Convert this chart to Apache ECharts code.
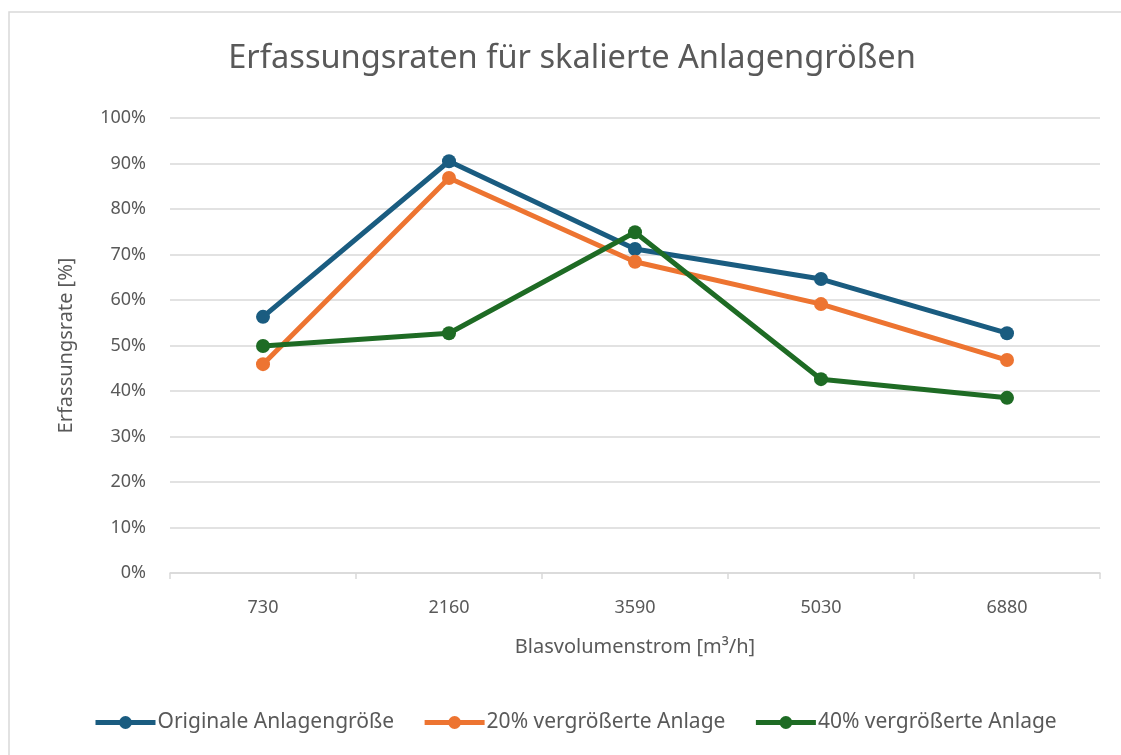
<!DOCTYPE html>
<html>
<head>
<meta charset="utf-8">
<script src="https://cdn.jsdelivr.net/npm/echarts@6/dist/echarts.min.js"></script>
<style>
html,body{margin:0;padding:0;background:#fff;overflow:hidden;}
#chart{width:1121px;height:755px;}
</style>
</head>
<body>
<div id="chart"></div>
<script>
var categories = ['730', '2160', '3590', '5030', '6880'];
var seriesNames = ['Originale Anlagengröße', '20% vergrößerte Anlage', '40% vergrößerte Anlage'];
var original = [56.3, 90.5, 71.2, 64.6, 52.7];
var plus20 = [45.9, 86.8, 68.4, 59.1, 46.8];
var plus40 = [49.9, 52.7, 74.9, 42.6, 38.5];
var colors = ['#1a5c80', '#ed7431', '#1e6b24'];

var chart = echarts.init(document.getElementById('chart'));
var font = '"Noto Sans", "Open Sans", sans-serif';

function line(name, data, color) {
  return {
    name: name,
    type: 'line',
    data: data,
    symbol: 'circle',
    symbolSize: 14,
    lineStyle: {width: 5, color: color},
    itemStyle: {color: color},
    z: 3
  };
}

var option = {
  animation: false,
  backgroundColor: '#fff',
  color: colors,
  // only the top and left edges of the chart frame are visible
  graphic: [{
    type: 'polyline',
    shape: {points: [[9, 760], [9, 12], [1130, 12]]},
    style: {fill: null, stroke: '#d9d9d9', lineWidth: 1.5},
    silent: true
  }],
  title: {
    text: 'Erfassungsraten für skalierte Anlagengrößen',
    left: 567,
    textAlign: 'center',
    top: 37,
    textStyle: {fontFamily: font, fontSize: 32.6, fontWeight: 'normal', color: '#595959'}
  },
  legend: {
    bottom: 17,
    left: 88,
    itemWidth: 60,
    itemHeight: 16,
    itemGap: 28,
    lineStyle: {width: 5},
    textStyle: {fontFamily: font, fontSize: 21, color: '#595959', padding: [0, 0, 0, -3]},
    data: seriesNames
  },
  grid: {left: 170, right: 21, top: 118, bottom: 182},
  xAxis: {
    type: 'category',
    data: categories,
    boundaryGap: true,
    name: 'Blasvolumenstrom [m³/h]',
    nameLocation: 'middle',
    nameGap: 64,
    nameTextStyle: {fontFamily: font, fontSize: 20, color: '#595959'},
    axisLine: {lineStyle: {color: '#d9d9d9', width: 1.5}},
    axisTick: {show: true, length: 6, lineStyle: {color: '#d9d9d9', width: 1.5}},
    axisLabel: {fontFamily: font, fontSize: 18, color: '#595959', margin: 26}
  },
  yAxis: {
    type: 'value',
    min: 0,
    max: 100,
    interval: 10,
    name: 'Erfassungsrate [%]',
    nameLocation: 'middle',
    nameGap: 94,
    nameTextStyle: {fontFamily: font, fontSize: 20, color: '#595959'},
    axisLine: {show: false},
    axisTick: {show: false},
    axisLabel: {formatter: '{value}%', fontFamily: font, fontSize: 18, color: '#595959', margin: 24},
    splitLine: {lineStyle: {color: '#d9d9d9', width: 1.5}}
  },
  series: [
    line(seriesNames[0], original, colors[0]),
    line(seriesNames[1], plus20, colors[1]),
    line(seriesNames[2], plus40, colors[2])
  ]
};
chart.setOption(option);
</script>
</body>
</html>
